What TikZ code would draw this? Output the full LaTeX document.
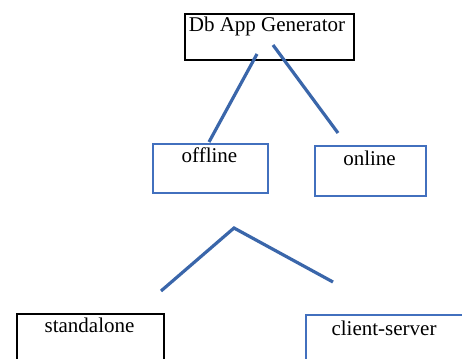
\documentclass[tikz,border=0pt]{standalone}
\usepackage{fontspec}
\setmainfont{Liberation Serif}
\definecolor{linkblue}{RGB}{58,102,170}
\definecolor{boxblue}{RGB}{66,112,190}
\tikzset{
  x=1pt, y=-1pt,
  boxshape/.style={draw, line width=1.6pt, inner sep=0pt, anchor=north west},
  blackbox/.style={boxshape, draw=black},
  bluebox/.style={boxshape, draw=boxblue},
  lbl/.style={anchor=base, inner sep=0pt, font=\fontsize{21}{25}\selectfont},
  link/.style={draw=linkblue, line width=3.2pt}
}
\begin{document}
\begin{tikzpicture}
\useasboundingbox (0,0) rectangle (462,358);
\clip (0,0) rectangle (462,358);
% boxes
\node[blackbox, minimum width=169pt, minimum height=46pt] (db) at (184,13) {};
\node[bluebox, minimum width=115pt, minimum height=49pt] (off) at (152,143) {};
\node[bluebox, minimum width=111pt, minimum height=50pt] (on) at (314,145) {};
\node[blackbox, minimum width=147pt, minimum height=60pt] (sa) at (16,313) {};
\node[bluebox, minimum width=160pt, minimum height=60pt] (cs) at (305,314) {};
% texts
\node[lbl] (tdb) at (267,32) {Db App Generator};
\node[lbl] (toff) at (209.5,162) {offline};
\node[lbl] (ton) at (369.5,165) {online};
\node[lbl] (tsa) at (89.5,332) {standalone};
\node[lbl] (tcs) at (384,335) {client-server};
% connectors
\coordinate (a1) at (257,54);
\coordinate (a2) at (209,142);
\coordinate (b1) at (273,45);
\coordinate (b2) at (338,133);
\coordinate (c1) at (161,291);
\coordinate (c2) at (234,228);
\coordinate (c3) at (333,282);
\draw[link] (a1) -- (a2);
\draw[link] (b1) -- (b2);
\draw[link] (c1) -- (c2) -- (c3);
\end{tikzpicture}
\end{document}
